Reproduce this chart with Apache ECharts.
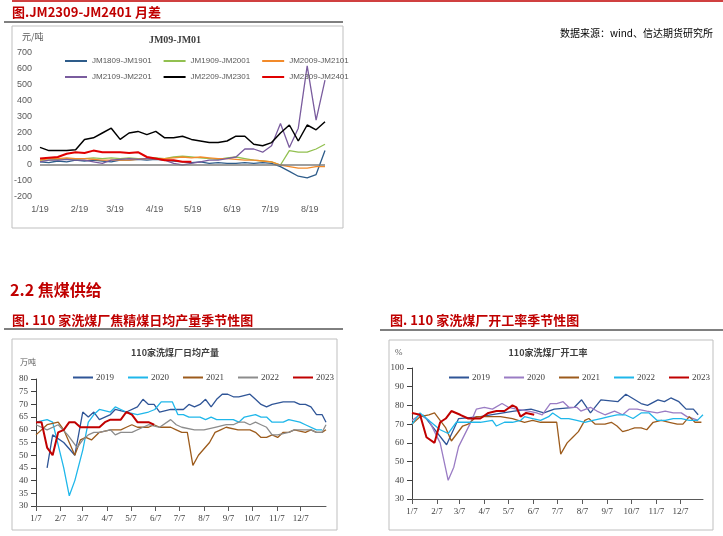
<!DOCTYPE html>
<html><head><meta charset="utf-8">
<script src="https://cdn.jsdelivr.net/npm/echarts@6/dist/echarts.min.js"></script>
<style>html,body{margin:0;padding:0;background:#fff}#c{width:723px;height:536px}</style>
</head><body><div id="c"></div>
<script>
// ---------- top chart: JM09-JM01 (day offset from 1/19) ----------
const topMonthDays = [0,31,59,90,120,151,181,212];
const topMonthLabels = ['1/19','2/19','3/19','4/19','5/19','6/19','7/19','8/19'];
const topDays = [0,7,14,21,28,35,42,49,56,63,70,77,84,91,98,105,112,119,126,133,140,147,154,161,168,175,182,189,196,203,210,217,224];
const jm1809 = [20,15,25,20,30,25,30,25,20,30,30,35,30,35,30,25,20,15,20,10,15,10,10,15,10,15,10,-10,-40,-70,-80,-60,90];
const jm1909 = [30,30,35,40,35,40,45,40,45,40,45,40,40,45,40,50,55,50,45,40,35,45,50,40,30,25,20,0,90,80,80,100,130];
const jm2009 = [30,40,40,45,40,40,35,30,30,30,30,35,40,40,40,45,50,45,50,45,40,40,35,30,30,25,20,0,-10,-20,-20,-10,-10];
const jm2109 = [20,30,30,35,30,30,20,10,30,35,40,35,40,40,30,10,0,10,20,30,30,40,50,100,100,80,120,260,110,230,620,280,530];
const jm2209 = [110,90,90,90,95,160,170,200,230,160,200,210,190,210,170,170,180,160,150,140,140,150,180,180,130,120,140,200,250,150,250,220,270];
const jm2309 = [40,45,50,70,80,75,90,80,80,80,75,80,50,40,30,30,20,20];

// ---------- bottom charts (day of year, weekly seasonal) ----------
const monthDays = [0,31,59,90,120,151,181,212,243,273,304,334];
const monthLabels = ['1/7','2/7','3/7','4/7','5/7','6/7','7/7','8/7','9/7','10/7','11/7','12/7'];

const out2019 = [[14,45],[21,58],[35,55],[49,50],[59,67],[66,65],[73,67],[80,64],[94,66],[100,68],[114,67],[128,69],[135,72],[142,70],[149,70],[156,67],[170,68],[177,68],[186,68],[193,70],[200,69],[207,70],[214,72],[221,69],[228,72],[235,74],[242,74],[249,73],[256,73],[270,74],[277,72],[284,70],[291,69],[298,70],[312,71],[319,71],[326,71],[333,70],[340,70],[347,69],[354,66],[361,66],[366,63]];
const out2020 = [[0,63],[14,64],[21,63],[35,45],[42,34],[49,40],[59,52],[66,63],[73,66],[80,68],[94,67],[100,69],[107,68],[114,67],[128,66],[142,67],[150,68],[158,71],[172,71],[179,66],[186,66],[193,65],[207,65],[214,64],[221,65],[228,64],[242,64],[249,64],[256,63],[263,65],[277,66],[284,65],[291,65],[298,63],[312,63],[319,64],[333,63],[340,62],[354,60],[361,60]];
const out2021 = [[0,58],[14,62],[28,63],[35,60],[49,50],[56,56],[63,57],[70,56],[80,59],[94,60],[107,60],[114,61],[121,62],[128,61],[142,61],[149,62],[156,61],[170,61],[177,60],[184,59],[191,59],[198,46],[205,50],[219,55],[226,59],[233,60],[240,61],[255,60],[270,60],[277,59],[284,57],[291,57],[298,58],[305,57],[312,59],[319,59],[326,60],[340,59],[347,60],[354,59],[361,59],[366,60]];
const out2022 = [[0,62],[14,60],[28,62],[40,58],[52,53],[59,56],[66,58],[73,59],[80,59],[94,60],[100,58],[107,59],[121,59],[135,61],[142,62],[156,61],[170,64],[177,62],[184,61],[200,60],[212,60],[226,61],[240,62],[249,62],[256,63],[263,63],[270,62],[277,63],[284,62],[291,61],[298,58],[305,58],[319,59],[326,60],[340,60],[347,60],[354,59],[361,59],[366,62]];
const out2023 = [[0,63],[7,63],[14,53],[21,50],[28,59],[35,60],[42,63],[49,63],[56,61],[66,61],[80,61],[87,63],[94,64],[107,64],[114,67],[121,66],[128,63],[135,63],[142,63],[149,62]];

const rate2019 = [[14,75],[43,59],[58,73],[85,74],[98,75],[127,77],[148,78],[164,76],[177,78],[202,79],[211,83],[222,76],[235,83],[256,82],[266,86],[285,81],[293,80],[306,83],[314,82],[322,84],[332,82],[341,78],[350,78],[356,75]];
const rate2020 = [[0,72],[10,75],[21,72],[35,60],[45,40],[52,47],[58,58],[65,64],[72,70],[80,78],[90,79],[100,78],[112,81],[120,79],[130,78],[145,77],[155,76],[162,75],[172,81],[180,81],[188,82],[195,79],[205,79],[210,77],[222,79],[230,77],[240,75],[252,77],[262,75],[270,78],[280,78],[292,77],[305,76],[315,77],[325,76],[335,76],[342,74],[350,73],[356,72]];
const rate2021 = [[0,70],[10,74],[21,75],[28,76],[35,72],[42,68],[49,61],[56,65],[63,69],[70,70],[80,74],[95,74],[110,74],[125,73],[140,71],[150,72],[160,71],[170,71],[180,71],[185,54],[193,60],[200,63],[207,66],[215,72],[220,73],[228,70],[240,70],[248,71],[255,69],[262,66],[270,67],[277,68],[285,68],[292,67],[300,71],[310,72],[320,71],[330,70],[337,70],[345,74],[352,71],[360,71]];
const rate2022 = [[0,70],[10,76],[21,72],[35,67],[45,65],[55,71],[70,71],[85,71],[100,72],[105,69],[115,71],[125,71],[135,72],[140,74],[150,73],[160,72],[170,74],[175,76],[185,73],[195,73],[205,72],[215,71],[225,72],[235,73],[245,74],[255,75],[265,75],[275,73],[285,76],[295,76],[305,72],[315,72],[325,73],[335,73],[345,72],[355,72],[362,75]];
const rate2023 = [[0,76],[10,75],[18,63],[28,60],[35,71],[42,73],[49,77],[60,75],[70,73],[85,73],[95,76],[105,77],[115,77],[125,80],[130,79],[135,74],[142,76],[152,75]];

const RED = '#c00000';
const serif = 'Liberation Serif';
function pairs(xs, ys){ return ys.map((v,i)=>[xs[i],v]); }

const chart = echarts.init(document.getElementById('c'));
const lineS = (name, data, color, xi, w, z) => ({
  name, type:'line', data, xAxisIndex:xi, yAxisIndex:xi, showSymbol:false, symbol:'none',
  lineStyle:{color, width:w||1.5}, itemStyle:{color}, z:z||2, animation:false
});
const frame = (x,y,w,h)=>({type:'rect', shape:{x,y,width:w,height:h}, style:{fill:'none', stroke:'#bfbfbf', lineWidth:1}});
const hline = (x1,x2,y,c,w)=>({type:'line', shape:{x1,y1:y,x2,y2:y}, style:{stroke:c, lineWidth:w}});
const txt = (x,y,t,font,fill,align)=>({type:'text', x, y, style:{text:t, font, fill, textAlign:align||'left', textVerticalAlign:'middle'}});

const smallLbl = {fontSize:9, color:'#595959', fontFamily:'Liberation Sans'};
const serifLbl = {fontSize:9, color:'#404040', fontFamily:serif};
const bLeg = {itemWidth:20,itemHeight:2,itemGap:14,icon:'rect',width:300,textStyle:{fontSize:9,color:'#404040',fontFamily:serif,padding:[0,0,0,-2]}};

chart.setOption({
  animation:false,
  graphic:[
    hline(12,723,1,RED,1.5),
    txt(12,12,'图.JM2309-JM2401 月差','bold 13px "Noto Sans CJK SC"',RED),
    hline(4,343,22,'#000',1),
    frame(12,26,331,202),
    txt(175,40,'JM09-JM01','bold 10px "Liberation Serif"','#404040','center'),
    txt(22,37,'元/吨','9px "Noto Sans CJK SC"','#595959'),
    txt(713,33,'数据来源：wind、信达期货研究所','10px "Noto Sans CJK SC"','#000','right'),
    txt(10,290,'2.2 焦煤供给','bold 16px "Noto Sans CJK SC"',RED),
    txt(12,320,'图. 110 家洗煤厂焦精煤日均产量季节性图','bold 13px "Noto Sans CJK SC"',RED),
    hline(4,343,329,'#000',1),
    frame(12,339,325,191),
    txt(175,353,'110家洗煤厂日均产量','bold 9px "Noto Sans CJK SC"','#404040','center'),
    txt(20,362,'万吨','8px "Noto Sans CJK SC"','#595959'),
    txt(390,320,'图. 110 家洗煤厂开工率季节性图','bold 13px "Noto Sans CJK SC"',RED),
    hline(380,723,330,'#000',1),
    frame(389,340,324,190),
    txt(548,353,'110家洗煤厂开工率','bold 9px "Noto Sans CJK SC"','#404040','center'),
    txt(395,353,'%','9px "Liberation Serif"','#595959')
  ],
  legend:[
    {top:52,left:60,itemWidth:22,itemHeight:2,itemGap:12,icon:'rect',textStyle:{fontSize:8,color:'#595959'},data:['JM1809-JM1901','JM1909-JM2001','JM2009-JM2101']},
    {top:68,left:60,itemWidth:22,itemHeight:2,itemGap:12,icon:'rect',textStyle:{fontSize:8,color:'#595959'},data:['JM2109-JM2201','JM2209-JM2301','JM2309-JM2401']},
    Object.assign({top:368,left:68,data:['2019','2020','2021','2022','2023']},bLeg),
    Object.assign({top:368,left:444,data:['r2019','r2020','r2021','r2022','r2023'],formatter:n=>n.slice(1)},bLeg)
  ],
  grid:[
    {left:40,right:398,top:53,bottom:339},
    {left:36,right:397,top:379,bottom:30},
    {left:412,right:20,top:368,bottom:37}
  ],
  xAxis:[
    {gridIndex:0,type:'value',min:0,max:224,axisLine:{show:false},axisTick:{show:false},splitLine:{show:false},
     axisLabel:Object.assign({customValues:topMonthDays,formatter:v=>topMonthLabels[topMonthDays.indexOf(v)]||''},smallLbl)},
    {gridIndex:1,type:'value',min:0,max:366,axisLine:{lineStyle:{color:'#595959'}},axisTick:{show:true,customValues:monthDays,lineStyle:{color:'#595959'}},splitLine:{show:false},
     axisLabel:Object.assign({customValues:monthDays,formatter:v=>monthLabels[monthDays.indexOf(v)]||''},serifLbl)},
    {gridIndex:2,type:'value',min:0,max:362,axisLine:{lineStyle:{color:'#595959'}},axisTick:{show:true,customValues:monthDays,lineStyle:{color:'#595959'}},splitLine:{show:false},
     axisLabel:Object.assign({customValues:monthDays,formatter:v=>monthLabels[monthDays.indexOf(v)]||''},serifLbl)}
  ],
  yAxis:[
    {gridIndex:0,type:'value',min:-200,max:700,interval:100,axisLine:{show:false},axisTick:{show:false},splitLine:{show:false},axisLabel:smallLbl},
    {gridIndex:1,type:'value',min:30,max:80,interval:5,axisLine:{show:true,lineStyle:{color:'#404040'}},axisTick:{show:true,inside:false,lineStyle:{color:'#404040'}},splitLine:{show:false},axisLabel:serifLbl},
    {gridIndex:2,type:'value',min:30,max:100,interval:10,axisLine:{show:true,lineStyle:{color:'#404040'}},axisTick:{show:true,lineStyle:{color:'#404040'}},splitLine:{show:false},axisLabel:serifLbl}
  ],
  series:[
    Object.assign(lineS('JM1809-JM1901',pairs(topDays,jm1809),'#2e5c8a',0,1.3),
      {markLine:{silent:true,symbol:'none',label:{show:false},lineStyle:{color:'#7f7f7f',type:'solid',width:1.5},data:[{yAxis:0}]}}),
    lineS('JM1909-JM2001',pairs(topDays,jm1909),'#92c050',0,1.3),
    lineS('JM2009-JM2101',pairs(topDays,jm2009),'#f28a2a',0,1.3),
    lineS('JM2109-JM2201',pairs(topDays,jm2109),'#7a5c9e',0,1.3),
    lineS('JM2209-JM2301',pairs(topDays,jm2209),'#000000',0,1.5,3),
    lineS('JM2309-JM2401',pairs(topDays,jm2309),'#e00000',0,2,4),
    lineS('2019',out2019,'#2f5597',1,1.3),
    lineS('2020',out2020,'#1fb7ea',1,1.3),
    lineS('2021',out2021,'#9c5b1c',1,1.3),
    lineS('2022',out2022,'#8c8c8c',1,1.3),
    lineS('2023',out2023,'#c00000',1,2,4),
    lineS('r2019',rate2019,'#2f5597',2,1.3),
    lineS('r2020',rate2020,'#9a7cc4',2,1.3),
    lineS('r2021',rate2021,'#9c5b1c',2,1.3),
    lineS('r2022',rate2022,'#1fb7ea',2,1.3),
    lineS('r2023',rate2023,'#c00000',2,2,4)
  ]
});
</script></body></html>
